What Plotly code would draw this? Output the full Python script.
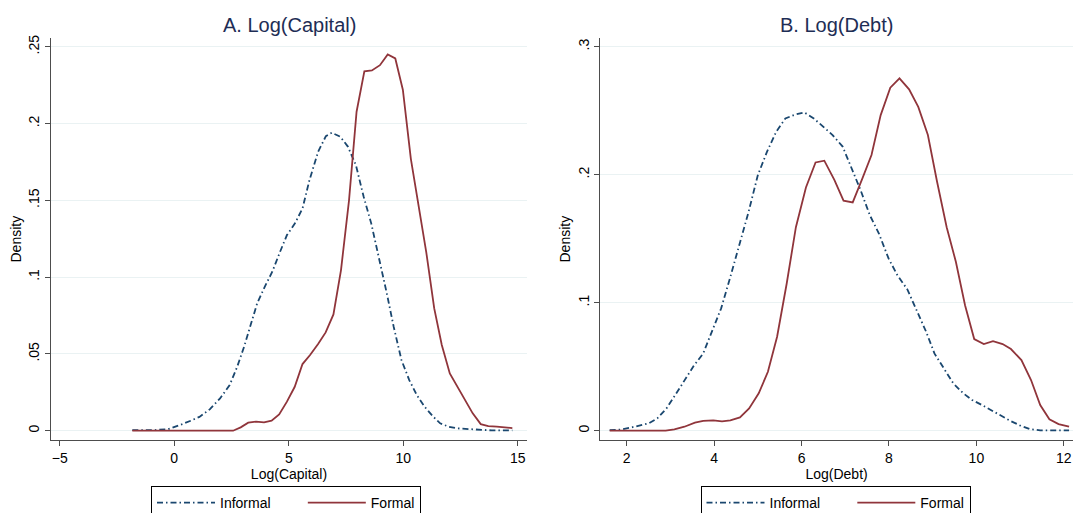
import plotly.graph_objects as go

# ---------------- Data ----------------
# Panel A: Log(Capital)
cap_inf_x = [-1.83, -0.86, -0.26, 0.00, 0.35, 0.72, 1.10, 1.55, 2.00, 2.42, 2.75, 3.05,
             3.32, 3.62, 3.95, 4.28, 4.62, 4.92, 5.27, 5.60, 5.90, 6.28, 6.62, 6.88,
             7.25, 7.58, 7.93, 8.27, 8.60, 8.95, 9.28, 9.58, 9.92, 10.26, 10.59, 10.93,
             11.31, 11.61, 11.98, 12.36, 13.10, 13.86, 14.76]
cap_inf_y = [0.0004, 0.0004, 0.0010, 0.0026, 0.0043, 0.0065, 0.0090, 0.0139, 0.0210, 0.0297,
             0.0417, 0.0547, 0.0688, 0.0829, 0.0937, 0.1035, 0.1165, 0.1274, 0.1350, 0.1447,
             0.1630, 0.1816, 0.1918, 0.1940, 0.1914, 0.1850, 0.1730, 0.1523, 0.1350, 0.1122,
             0.0894, 0.0677, 0.0460, 0.0330, 0.0232, 0.0156, 0.0091, 0.0048, 0.0026, 0.0015,
             0.0007, 0.0002, 0.0002]

cap_for_x = [-1.83, 2.57, 2.90, 3.23, 3.57, 3.92, 4.25, 4.58, 4.92, 5.26, 5.60, 5.93,
             6.28, 6.61, 6.95, 7.28, 7.63, 7.96, 8.30, 8.63, 8.98, 9.32, 9.65, 9.98,
             10.33, 10.68, 11.00, 11.35, 11.68, 12.03, 12.36, 12.70, 13.03, 13.38, 13.71,
             14.08, 14.76]
cap_for_y = [0.0000, 0.0000, 0.0022, 0.0052, 0.0059, 0.0054, 0.0065, 0.0106, 0.0189, 0.0286,
             0.0434, 0.0493, 0.0564, 0.0640, 0.0757, 0.1046, 0.1500, 0.2077, 0.2340, 0.2346,
             0.2380, 0.2450, 0.2424, 0.2220, 0.1770, 0.1447, 0.1165, 0.0796, 0.0558, 0.0373,
             0.0286, 0.0200, 0.0113, 0.0043, 0.0030, 0.0026, 0.0017]

# Panel B: Log(Debt)
debt_inf_x = [1.61, 1.84, 2.08, 2.31, 2.50, 2.70, 2.91, 3.11, 3.32, 3.53, 3.75, 3.95,
              4.16, 4.35, 4.57, 4.78, 5.00, 5.21, 5.42, 5.63, 5.85, 6.06, 6.28, 6.49,
              6.71, 6.94, 7.14, 7.35, 7.56, 7.77, 7.99, 8.19, 8.42, 8.61, 8.85, 9.04,
              9.28, 9.47, 9.70, 9.90, 10.13, 10.33, 10.56, 10.77, 10.99, 11.22, 11.46, 12.12]
debt_inf_y = [0.0005, 0.0008, 0.0023, 0.0042, 0.0057, 0.0096, 0.0174, 0.0279, 0.0390, 0.0505,
              0.0604, 0.0773, 0.0956, 0.1177, 0.1438, 0.1700, 0.1997, 0.2180, 0.2336, 0.2440,
              0.2470, 0.2487, 0.2440, 0.2375, 0.2310, 0.2220, 0.2060, 0.1880, 0.1685, 0.1540,
              0.1346, 0.1216, 0.1104, 0.0956, 0.0773, 0.0604, 0.0474, 0.0370, 0.0292, 0.0240,
              0.0200, 0.0161, 0.0117, 0.0078, 0.0042, 0.0013, 0.0003, 0.0003]

debt_for_x = [1.61, 2.89, 3.09, 3.32, 3.56, 3.75, 3.98, 4.18, 4.37, 4.59, 4.80, 5.02,
              5.23, 5.44, 5.66, 5.87, 6.10, 6.32, 6.52, 6.75, 6.96, 7.17, 7.39, 7.60,
              7.81, 8.03, 8.24, 8.46, 8.67, 8.89, 9.10, 9.32, 9.53, 9.74, 9.95, 10.17,
              10.38, 10.60, 10.79, 11.03, 11.25, 11.46, 11.67, 11.88, 12.12]
debt_for_y = [0.0000, 0.0000, 0.0010, 0.0031, 0.0063, 0.0076, 0.0081, 0.0073, 0.0081, 0.0104,
              0.0174, 0.0292, 0.0460, 0.0734, 0.1150, 0.1590, 0.1900, 0.2096, 0.2110, 0.1960,
              0.1797, 0.1784, 0.1970, 0.2154, 0.2466, 0.2680, 0.2753, 0.2667, 0.2530, 0.2310,
              0.1945, 0.1590, 0.1320, 0.0980, 0.0716, 0.0677, 0.0700, 0.0677, 0.0638, 0.0552,
              0.0396, 0.0200, 0.0089, 0.0052, 0.0031]

series_names = ["Informal", "Formal"]
cap_xticks = [-5, 0, 5, 10, 15]
cap_xtext = ["\u22125", "0", "5", "10", "15"]
cap_yticks = [0, 0.05, 0.1, 0.15, 0.2, 0.25]
cap_ytext = ["0", ".05", ".1", ".15", ".2", ".25"]
debt_xticks = [2, 4, 6, 8, 10, 12]
debt_xtext = ["2", "4", "6", "8", "10", "12"]
debt_yticks = [0, 0.1, 0.2, 0.3]
debt_ytext = ["0", ".1", ".2", ".3"]

# ---------------- Styling ----------------
W, H = 1073, 513
NAVY = "#1a476f"
MAROON = "#90353b"
TITLE_C = "#1e2d55"
AXIS_C = "#4d4d4d"
GRID_C = "#eaf2f3"
FONT = "Liberation Sans, Arial, sans-serif"
DASHDOT = "6px,3px,1.5px,3px"
PAD = "\u00a0" * 7  # spacing after the first legend entry

fig = go.Figure()

fig.add_trace(go.Scatter(x=cap_inf_x, y=cap_inf_y, name=series_names[0] + PAD, mode="lines",
                         line=dict(color=NAVY, width=1.8, dash=DASHDOT),
                         xaxis="x", yaxis="y", legend="legend"))
fig.add_trace(go.Scatter(x=cap_for_x, y=cap_for_y, name=series_names[1], mode="lines",
                         line=dict(color=MAROON, width=1.8),
                         xaxis="x", yaxis="y", legend="legend"))
fig.add_trace(go.Scatter(x=debt_inf_x, y=debt_inf_y, name=series_names[0] + PAD, mode="lines",
                         line=dict(color=NAVY, width=1.8, dash=DASHDOT),
                         xaxis="x2", yaxis="y2", legend="legend2"))
fig.add_trace(go.Scatter(x=debt_for_x, y=debt_for_y, name=series_names[1], mode="lines",
                         line=dict(color=MAROON, width=1.8),
                         xaxis="x2", yaxis="y2", legend="legend2"))

ydom = [(H - 440) / H, (H - 38.3) / H]

common_x = dict(showline=True, linecolor=AXIS_C, linewidth=1.2, ticks="outside",
                ticklen=5, tickcolor=AXIS_C, tickwidth=1.2, showgrid=False, zeroline=False,
                tickfont=dict(size=14, color="#000"))
common_y = dict(showline=True, linecolor=AXIS_C, linewidth=1.2, ticks="outside",
                ticklen=5, tickcolor=AXIS_C, tickwidth=1.2, showgrid=True, gridcolor=GRID_C,
                gridwidth=1, zeroline=False, tickangle=-90,
                tickfont=dict(size=14, color="#000"),
                title=dict(text="Density", font=dict(size=14, color="#000"), standoff=1))

legend_common = dict(orientation="h", bordercolor="#000", borderwidth=1,
                     bgcolor="white", font=dict(size=14, color="#000", family=FONT),
                     xanchor="left", yanchor="top", itemwidth=58, tracegroupgap=0)

fig.update_layout(
    width=W, height=H,
    margin=dict(l=0, r=0, t=0, b=0, autoexpand=False),
    paper_bgcolor="white", plot_bgcolor="white",
    font=dict(family=FONT, color="#000"),
    xaxis=dict(domain=[51 / W, 527 / W], range=[-5.38, 15.40], anchor="y",
               tickvals=cap_xticks, ticktext=cap_xtext,
               title=dict(text="Log(Capital)", font=dict(size=14, color="#000"), standoff=0),
               **common_x),
    yaxis=dict(domain=ydom, range=[-0.00605, 0.2555], anchor="x",
               tickvals=cap_yticks, ticktext=cap_ytext, **common_y),
    xaxis2=dict(domain=[600.2 / W, 1.0], range=[1.393, 12.21], anchor="y2",
                tickvals=debt_xticks, ticktext=debt_xtext,
                title=dict(text="Log(Debt)", font=dict(size=14, color="#000"), standoff=0),
                **common_x),
    yaxis2=dict(domain=ydom, range=[-0.00727, 0.3066], anchor="x2",
                tickvals=debt_yticks, ticktext=debt_ytext, **common_y),
    legend=dict(x=151 / W, y=(H - 486) / H, **legend_common),
    legend2=dict(x=700.5 / W, y=(H - 486) / H, **legend_common),
    showlegend=True,
    annotations=[
        dict(text="A. Log(Capital)", x=289 / W, y=(H - 24.5) / H, xref="paper", yref="paper",
             xanchor="center", yanchor="middle", showarrow=False,
             font=dict(size=20, color=TITLE_C, family=FONT)),
        dict(text="B. Log(Debt)", x=836.5 / W, y=(H - 24.5) / H, xref="paper", yref="paper",
             xanchor="center", yanchor="middle", showarrow=False,
             font=dict(size=20, color=TITLE_C, family=FONT)),
    ],
)

fig.write_html("out.html",
               config={"displayModeBar": False},
               post_script="document.body.style.margin='0';document.body.style.overflow='hidden';")
